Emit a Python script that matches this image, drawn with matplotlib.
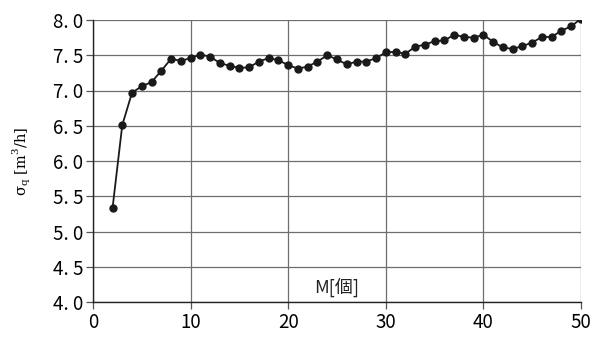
import matplotlib
matplotlib.use("Agg")
import matplotlib.pyplot as plt
from matplotlib.ticker import FixedLocator, FuncFormatter

# M [個] と σq [m3/h]
m_count = list(range(2, 51))
sigma_q = [
    5.33, 6.51, 6.97, 7.06, 7.12, 7.28, 7.45, 7.42, 7.46, 7.51,
    7.48, 7.39, 7.35, 7.32, 7.33, 7.41, 7.46, 7.43, 7.36, 7.31,
    7.34, 7.41, 7.50, 7.44, 7.37, 7.41, 7.41, 7.46, 7.54, 7.55,
    7.52, 7.62, 7.65, 7.70, 7.71, 7.79, 7.76, 7.75, 7.79, 7.69,
    7.61, 7.59, 7.63, 7.68, 7.76, 7.76, 7.85, 7.91, 8.02,
]
x_ticks = [0, 10, 20, 30, 40, 50]
y_ticks = [4.0, 4.5, 5.0, 5.5, 6.0, 6.5, 7.0, 7.5, 8.0]

plt.rcParams["font.family"] = ["Noto Sans CJK JP", "DejaVu Sans"]

fig = plt.figure(figsize=(5.92, 3.38), dpi=100)
ax = fig.add_axes([93 / 592, 36 / 338, 488 / 592, 282 / 338])

ax.plot(m_count, sigma_q, "o-", color="#1a1a1a", linewidth=1.3, markersize=5, zorder=3)

ax.set_xlim(0, 50)
ax.set_ylim(4.0, 8.0)
ax.xaxis.set_major_locator(FixedLocator(x_ticks))
ax.yaxis.set_major_locator(FixedLocator(y_ticks))
ax.yaxis.set_major_formatter(FuncFormatter(lambda v, p: f"{v:.1f}".replace(".", ". ")))

ax.grid(True, color="#6e6e6e", linewidth=0.9)
ax.set_axisbelow(True)
for side in ("top", "right"):
    ax.spines[side].set_visible(False)
for side in ("left", "bottom"):
    ax.spines[side].set_color("#222222")
    ax.spines[side].set_linewidth(1.0)

ax.tick_params(axis="both", direction="out", length=5, width=0.9,
               color="#555555", labelsize=13.5, pad=2)

ax.text(0.5, 0.05, "M[個]", transform=ax.transAxes, ha="center", va="center",
        fontsize=13, color="#222222")
ax.set_ylabel(r"σ$_{\mathregular{q}}$ [m$^{\mathregular{3}}$/h]", fontsize=10.5, labelpad=14,
              family=["DejaVu Serif"])

fig.savefig("out.png", dpi=100)
